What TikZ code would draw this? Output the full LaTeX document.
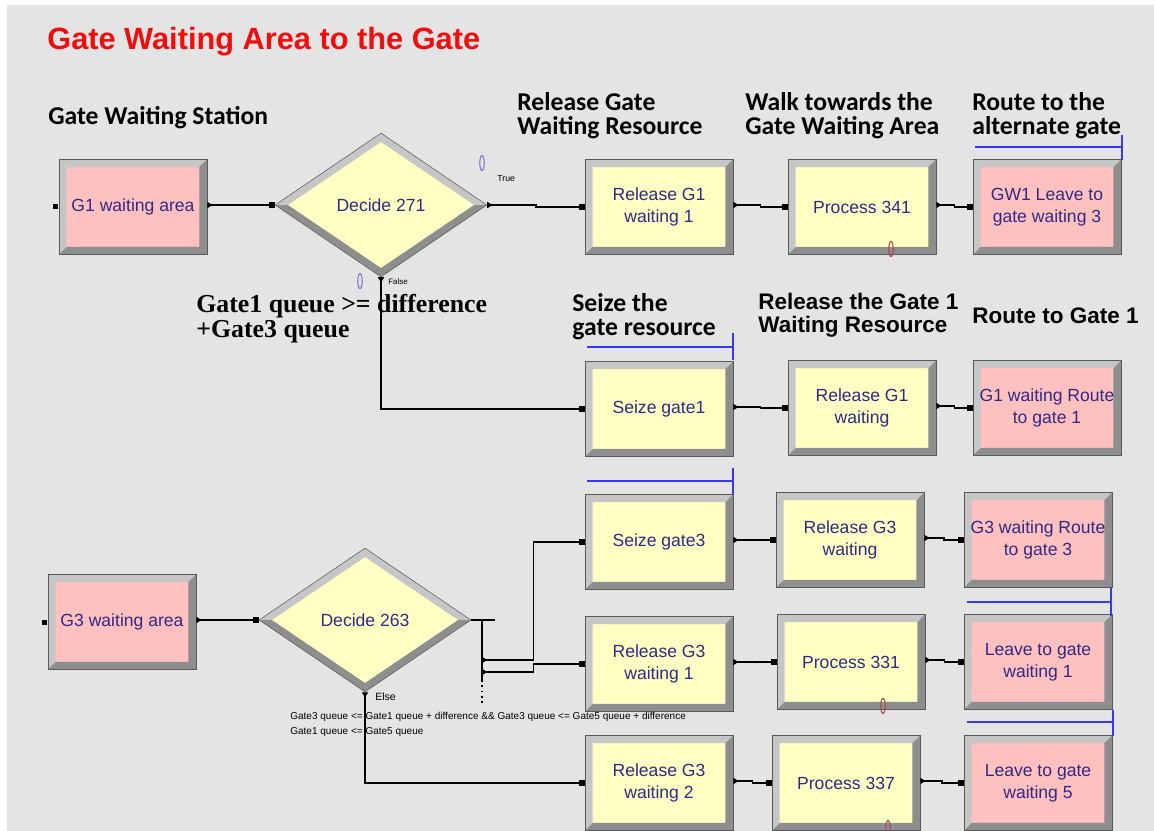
\documentclass[tikz,border=0pt]{standalone}
\usepackage{fontspec}
\setmainfont{Liberation Sans}
\newfontfamily\calibrifont{Carlito}
\newfontfamily\cambriafont{Liberation Serif}
\usetikzlibrary{shapes.geometric,arrows.meta,calc}

\definecolor{bggray}{HTML}{E4E4E4}
\definecolor{pinkmod}{HTML}{FFC0C0}
\definecolor{yellowmod}{HTML}{FFFFC4}
\definecolor{framelight}{HTML}{C6C6C6}
\definecolor{framedark}{HTML}{8E8E8E}
\definecolor{modtext}{HTML}{2F2A85}
\definecolor{routeblue}{HTML}{3838F0}
\definecolor{titlered}{HTML}{F20D0D}
\definecolor{queuepurple}{HTML}{7B6FD0}
\definecolor{queuered}{HTML}{B04050}

\tikzset{
  module/.style={rectangle, minimum width=2.96cm, minimum height=1.9cm, inner sep=0pt,
    fill=#1, draw=gray!70!black, line width=0.3pt, text=modtext, align=center,
    font=\fontsize{10}{12.5}\selectfont,
    path picture={
      \fill[framelight] (path picture bounding box.south west) |- (path picture bounding box.north east)
        -- ++(-0.15cm,-0.15cm) -| ([shift={(0.15cm,0.15cm)}]path picture bounding box.south west) -- cycle;
      \fill[framedark] (path picture bounding box.south west) -| (path picture bounding box.north east)
        -- ++(-0.15cm,-0.15cm) |- ([shift={(0.15cm,0.15cm)}]path picture bounding box.south west) -- cycle;
    }},
  decide/.style={diamond, minimum width=4.24cm, minimum height=2.88cm, inner sep=0pt,
    fill=yellowmod, draw=gray!70!black, line width=0.3pt, text=modtext,
    font=\fontsize{10}{12.5}\selectfont,
    path picture={
      \fill[framelight] (path picture bounding box.north west) rectangle (path picture bounding box.east);
      \fill[framedark] (path picture bounding box.west) rectangle (path picture bounding box.south east);
      \fill[yellowmod] ([xshift=0.26cm]path picture bounding box.west) -- ([yshift=-0.18cm]path picture bounding box.north)
        -- ([xshift=-0.26cm]path picture bounding box.east) -- ([yshift=0.18cm]path picture bounding box.south) -- cycle;
    }},
  conn/.style={line width=0.6pt, {Triangle[reversed,length=3pt,width=3.5pt]}-{Square[length=3pt,width=3pt]}},
  heading/.style={anchor=north west, inner sep=0pt, align=left, font=\calibrifont\bfseries\fontsize{14.6}{13.7}\selectfont},
  tahomahead/.style={anchor=north west, inner sep=0pt, align=left, font=\bfseries\fontsize{12.8}{13}\selectfont},
  branchlabel/.style={anchor=west, inner sep=0pt, font=\fontsize{5}{6}\selectfont},
  condtext/.style={anchor=west, inner sep=0pt, font=\fontsize{5.7}{6}\selectfont},
  routeline/.style={routeblue, line width=0.8pt},
  queuemark/.style={line width=0.6pt},
}

\begin{document}
\begin{tikzpicture}[x=0.02cm, y=-0.02cm]

    % page and grey canvas
    \useasboundingbox (0,0) rectangle (1154,831);
    \fill[white] (0,0) rectangle (1154,831);
    \fill[bggray] (7,5) rectangle (1154,831);

    % titles
    \node[anchor=north west, inner sep=0pt, text=titlered, font=\bfseries\fontsize{17.5}{18}\selectfont] (title) at (47,27) {Gate Waiting Area to the Gate};
    \node[heading] (hstation) at (48,106) {Gate Waiting Station};
    \node[heading] (hrelease) at (517,92) {Release Gate\\Waiting Resource};
    \node[heading] (hwalk) at (745,92) {Walk towards the\\Gate Waiting Area};
    \node[heading] (halt) at (972,92) {Route to the\\alternate gate};
    \node[anchor=north west, inner sep=0pt, align=left, font=\cambriafont\bfseries\fontsize{14.7}{14.2}\selectfont] (hcond) at (196,294) {Gate1 queue >= difference\\+Gate3 queue};
    \node[heading] (hseize) at (572,293) {Seize the\\gate resource};
    \node[tahomahead] (hrelgate) at (758,293) {Release the Gate 1\\Waiting Resource};
    \node[tahomahead] (hroute) at (972,307) {Route to Gate 1};

    % upper flow
    \node[module=pinkmod] (g1area) at (133,207) {G1 waiting area};
    \node[decide] (dec271) at (381,205) {Decide 271};
    \node[module=yellowmod] (relg1a) at (659,207) {Release G1\\waiting 1};
    \node[module=yellowmod] (proc341) at (862,207) {Process 341};
    \node[module=pinkmod] (gw1leave) at (1047,207) {GW1 Leave to\\gate waiting 3};
    \node[module=yellowmod] (seize1) at (659,409) {Seize gate1};
    \node[module=yellowmod] (relg1b) at (862,408) {Release G1\\waiting};
    \node[module=pinkmod] (route1) at (1047,408) {G1 waiting Route\\to gate 1};

    % lower flow
    \node[module=yellowmod] (seize3) at (659,542) {Seize gate3};
    \node[module=yellowmod] (relg3) at (850,540) {Release G3\\waiting};
    \node[module=pinkmod] (route3) at (1038,540) {G3 waiting Route\\to gate 3};
    \node[module=pinkmod] (g3area) at (122,622) {G3 waiting area};
    \node[decide] (dec263) at (365,620) {Decide 263};
    \node[module=yellowmod] (relg3a) at (659,664) {Release G3\\waiting 1};
    \node[module=yellowmod] (proc331) at (851,662) {Process 331};
    \node[module=pinkmod] (leave1) at (1038,662) {Leave to gate\\waiting 1};
    \node[module=yellowmod] (relg3b) at (659,783) {Release G3\\waiting 2};
    \node[module=yellowmod] (proc337) at (846,783) {Process 337};
    \node[module=pinkmod] (leave5) at (1038,783) {Leave to gate\\waiting 5};

    % entry points of the two stations
    \fill ([xshift=-0.06cm]g1area.west) ++(-0.05cm,-0.05cm) rectangle ++(0.1cm,0.1cm);
    \fill ([xshift=-0.06cm]g3area.west) ++(-0.05cm,-0.05cm) rectangle ++(0.1cm,0.1cm);

    % straight connections
    \foreach \a/\b in {g1area/dec271, relg1a/proc341, proc341/gw1leave, seize1/relg1b, relg1b/route1,
                       seize3/relg3, relg3/route3, g3area/dec263, relg3a/proc331, proc331/leave1,
                       relg3b/proc337, proc337/leave5}
        \draw[conn] ([yshift=0.04cm]\a.east) -| ($(\a.east)!.5!(\b.west)$) |- (\b.west);

    % decide 271 branches
    \draw[conn] (dec271.east) -| ($(dec271.east)!.5!(relg1a.west)$) |- (relg1a.west);
    \draw[conn] (dec271.south) |- (seize1.west);
    \node[branchlabel] (ltrue) at (497,179) {True};
    \node[branchlabel, font=\fontsize{4.5}{5}\selectfont] (lfalse) at (388,282) {False};

    % decide 263 branches
    \coordinate (stubend) at (495,620);
    \coordinate (splitbot) at (482,680);
    \coordinate (br1) at (482,660);
    \coordinate (br2) at (482,672);
    \draw[line width=0.6pt] (dec263.east) -- (stubend);
    \draw[line width=0.6pt] (splitbot |- stubend) -- (splitbot);
    \draw[dotted, line width=1pt] (splitbot) -- ++(0,26);
    \draw[conn] (br1) -| ($(br1)!.5!(seize3.west)$) |- (seize3.west);
    \draw[conn] (br2) -| ($(br2)!.5!(relg3a.west)$) |- (relg3a.west);
    \draw[conn] (dec263.south) |- (relg3b.west);
    \node[branchlabel, font=\fontsize{6}{7}\selectfont] (lelse) at (375,697) {Else};
    \node[condtext] (cond1) at (290,717) {Gate3 queue <= Gate1 queue + difference \&\& Gate3 queue <= Gate5 queue + difference};
    \node[condtext] (cond2) at (290,732) {Gate1 queue <= Gate5 queue};

    % route markers
    \draw[routeline] (975,147) -- (1122,147) (1122,135) -- (1122,160);
    \draw[routeline] (587,347) -- (733,347) (733,333) -- (733,360);
    \draw[routeline] (587,481) -- (733,481) (733,468) -- (733,494);
    \draw[routeline] (967,602) -- (1111,602) (1111,588) -- (1111,616);
    \draw[routeline] (967,722) -- (1113,722) (1113,710) -- (1113,736);

    % queue marks
    \draw[queuemark, queuepurple] (482,163) ellipse (0.045cm and 0.15cm);
    \draw[queuemark, queuepurple] (360,281) ellipse (0.045cm and 0.15cm);
    \draw[queuemark, queuered] (891,249) ellipse (0.045cm and 0.15cm);
    \draw[queuemark, queuered] (883,706) ellipse (0.045cm and 0.15cm);
    \draw[queuemark, queuered] (888,828) ellipse (0.045cm and 0.15cm);

\end{tikzpicture}
\end{document}
